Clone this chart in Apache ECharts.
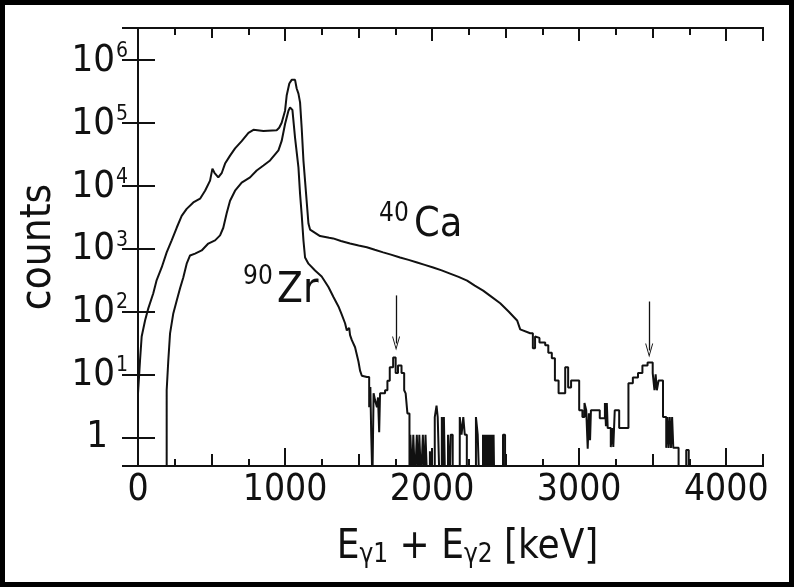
<!DOCTYPE html>
<html>
<head>
<meta charset="utf-8">
<script src="https://cdn.jsdelivr.net/npm/echarts@6/dist/echarts.min.js"></script>
<style>
  html, body { margin: 0; padding: 0; background: #fff; }
  #chart { width: 794px; height: 587px; }
</style>
</head>
<body>
<div id="chart"></div>
<script>
// 40Ca spectrum: [E (keV), counts].
// 0.2 = empty bin (below the axis); repeated energies are bin edges.
var ca40 = [
  [0,5],[14,17],[25,40],[48,72],[70,112],[104,195],[127,316],[161,500],[195,870],[229,1350],
  [263,2140],[297,3300],[331,4270],[376,5400],[422,6200],[456,8300],[490,12000],[506,18600],
  [520,16000],[546,13500],[570,16000],[592,22400],[626,30000],[660,39000],[705,51000],
  [751,69000],[785,77000],[853,74000],[943,76000],[960,83000],[977,100000],[1000,155000],
  [1011,270000],[1029,420000],[1045,480000],[1068,480000],[1079,350000],[1091,290000],[1102,210000],
  [1113,83000],[1125,25000],[1143,7400],[1159,2500],[1170,2000],[1204,1780],[1238,1580],
  [1300,1480],[1327,1450],[1380,1320],[1442,1200],[1500,1120],[1556,1050],[1610,955],
  [1667,870],[1720,800],[1782,720],[1840,660],[1898,600],[1950,550],[2007,500],[2065,450],
  [2122,400],[2180,355],[2238,310],[2290,257],[2347,214],[2400,174],[2463,135],[2520,100],
  [2578,72],[2599,52],[2667,45],[2685,45],[2685,26],[2700,26],[2700,40],[2730,38],[2730,32],
  [2769,32],[2769,29],[2790,29],[2790,22],[2814,22],[2814,18],[2835,18],[2835,8],[2860,8],
  [2860,5],[2905,5],[2905,13],[2925,13],[2925,6.2],[2945,6.2],[2945,8],[3000,8],[3000,2.7],
  [3022,2.7],[3022,2.1],[3036,2.1],[3036,3.5],[3048,3.5],[3048,2.7],[3058,2.7],[3058,0.66],
  [3066,0.66],[3066,2.4],[3074,2.4],[3074,0.9],[3080,0.9],[3080,2.7],[3140,2.7],[3140,2.0],
  [3175,2.0],[3175,3.5],[3182,3.5],[3182,1.5],[3188,1.5],[3188,3.5],[3194,3.5],[3194,1.4],
  [3215,1.4],[3215,0.7],[3224,0.7],[3224,1.4],[3232,1.4],[3232,0.7],[3242,0.7],[3242,2.7],
  [3272,2.7],[3272,1.4],[3335,1.4],[3335,7.2],[3365,7.2],[3365,8.9],[3400,8.9],[3400,10.5],
  [3430,10.5],[3430,13.8],[3465,13.8],[3465,15.5],[3500,15.5],[3500,10.5],[3512,10.5],
  [3512,5.6],[3520,5.6],[3520,10],[3528,10],[3528,5.6],[3540,5.6],[3540,8],[3570,8],
  [3570,2.1],[3592,2.1],[3592,0.68],[3600,0.68],[3600,2.1],[3608,2.1],[3608,0.68],[3616,0.68],
  [3616,2.1],[3624,2.1],[3624,0.68],[3632,0.68],[3632,2.1],[3640,2.1],[3640,0.68],[3676,0.68],
  [3676,0.2],[3728,0.2],[3728,0.63],[3745,0.63],[3745,0.2],[4250,0.2]
];

// 90Zr spectrum
var zr90 = [
  [0,0.2],[195,0.2],[195,5.6],[206,16.6],[218,45],[240,93],[263,148],[286,234],[308,347],[331,575],
  [354,776],[388,832],[433,933],[478,1200],[524,1350],[558,1620],[580,2140],[603,3630],
  [626,5750],[660,8300],[705,11200],[762,13500],[807,17400],[853,20900],[898,25100],
  [955,36300],[977,51300],[1000,95500],[1023,155000],[1034,174000],[1050,160000],
  [1068,57500],[1091,19500],[1102,7400],[1113,3500],[1125,1350],[1136,720],[1159,575],
  [1204,447],[1249,360],[1295,245],[1329,170],[1363,120],[1385,90],[1408,65],[1420,50],
  [1436,55],[1442,42],[1454,35],[1476,27],[1499,16],[1510,11.5],[1522,9.5],[1556,9.1],
  [1572,9.1],[1572,3],[1580,3],[1580,6.3],[1586,6.3],[1586,1.1],[1594,1.1],[1594,0.2],
  [1602,0.2],[1602,5],[1612,5],[1612,3.9],[1625,3.9],[1625,3],[1632,3],[1632,4.3],[1640,4.3],
  [1640,1.2],[1646,1.2],[1646,5],[1680,5],[1680,5.6],[1696,5.6],[1696,7.9],[1712,7.9],
  [1712,13],[1735,13],[1735,18.6],[1752,18.6],[1752,10.5],[1768,10.5],[1768,13.8],[1792,13.8],
  [1792,10.5],[1810,10.5],[1810,5.6],[1820,5.6],[1820,5],[1832,5],[1832,2.4],[1846,2.4],
  [1846,0.2],[1852,0.2],[1852,1.1],[1864,1.1],[1864,0.2],[1872,0.2],[1872,1.1],[1884,1.1],
  [1884,0.2],[1896,0.2],[1896,1.1],[1906,1.1],[1906,0.2],[1913,0.2],[1913,1.1],[1925,1.1],
  [1925,0.2],[1937,0.2],[1937,1.1],[1947,1.1],[1947,0.2],[1955,0.2],[1955,1.1],[1966,1.1],
  [1966,0.2],[1985,0.2],[1985,0.6],[1997,0.6],[1997,0.2],[2018,0.2],[2018,2.1],[2030,2.1],
  [2030,3.2],[2038,3.2],[2038,2.1],[2050,2.1],[2050,0.2],[2066,0.2],[2066,2.1],[2074,2.1],
  [2074,0.2],[2080,0.2],[2080,2.1],[2088,2.1],[2088,0.2],[2108,0.2],[2108,1.1],[2120,1.1],
  [2120,0.2],[2126,0.2],[2126,1.1],[2140,1.1],[2140,0.2],[2188,0.2],[2188,2.1],[2200,2.1],
  [2200,1.1],[2212,1.1],[2212,2.1],[2222,2.1],[2222,1.1],[2236,1.1],[2236,0.2],[2298,0.2],
  [2298,2.1],[2310,2.1],[2310,1.1],[2320,1.1],[2320,0.2],[2346,0.2],[2346,1.1],[2352,1.1],
  [2352,0.2],[2358,0.2],[2358,1.1],[2364,1.1],[2364,0.2],[2370,0.2],[2370,1.1],[2376,1.1],
  [2376,0.2],[2382,0.2],[2382,1.1],[2388,1.1],[2388,0.2],[2394,0.2],[2394,1.1],[2400,1.1],
  [2400,0.2],[2406,0.2],[2406,1.1],[2412,1.1],[2412,0.2],[2418,0.2],[2418,1.1],[2422,1.1],
  [2422,0.2],[2482,0.2],[2482,1.1],[2496,1.1],[2496,0.2],[4250,0.2]
];

// arrows marking the peaks: [E, top, tip]
var arrows = [[1755, 180, 31], [3476, 144, 24]];

var FONT = "'Liberation Sans Narrow', 'DejaVu Sans Condensed', 'Liberation Sans', sans-serif";
var INK = '#111';

var myChart = echarts.init(document.getElementById('chart'));

function xTicks(pos, interval, len, withLabels) {
    return {
        type: 'value', position: pos, min: 0, max: 4250, interval: interval,
        axisLine: { show: true, lineStyle: { color: INK, width: 2 } },
        axisTick: { show: true, inside: true, length: len, lineStyle: { color: INK, width: 2 } },
        axisLabel: withLabels ? {
            show: true, margin: 6, color: INK, fontFamily: FONT, fontSize: 37, showMaxLabel: false,
            formatter: function (v) { return String(v); }
        } : { show: false },
        splitLine: { show: false }
    };
}

var xMain = xTicks('bottom', 1000, 18, true);
xMain.name = 'E{sub|γ1} + E{sub|γ2} [keV]';
xMain.nameLocation = 'middle';
xMain.nameGap = 62;
xMain.nameTextStyle = {
    color: INK, fontFamily: FONT, fontSize: 40, lineHeight: 40, padding: [0, 0, 0, 34],
    rich: { sub: { fontFamily: FONT, fontSize: 26, lineHeight: 24, padding: [14, 0, 0, 0], verticalAlign: 'bottom', color: INK } }
};

function decadeLabel(v) {
    var e = Math.log10(v);
    if (Math.abs(e - Math.round(e)) > 1e-6) return '';
    e = Math.round(e);
    if (e === 0) return '{one|1}';
    return '{b|10}{s|' + e + '}';
}

var yCommon = {
    type: 'log', logBase: 10, min: 0.35, max: 3.2e6,
    axisLine: { show: true, lineStyle: { color: INK, width: 2 } },
    splitLine: { show: false }
};

var option = {
    backgroundColor: '#fff',
    animation: false,
    grid: { left: 138, right: 31, top: 28, bottom: 121 },
    xAxis: [
        xMain,
        xTicks('bottom', 500, 12, false),
        xTicks('bottom', 250, 7, false),
        xTicks('top', 1000, 13, false),
        xTicks('top', 500, 10, false),
        xTicks('top', 250, 7, false)
    ],
    yAxis: [
        Object.assign({}, yCommon, {
            position: 'left',
            axisTick: { show: true, inside: true, length: 17, lineStyle: { color: INK, width: 2 } },
            axisLabel: {
                show: true, margin: 10, color: INK, formatter: decadeLabel,
                rich: {
                    b: { fontFamily: FONT, fontSize: 38, lineHeight: 40, verticalAlign: 'bottom', color: INK },
                    s: { fontFamily: FONT, fontSize: 21, lineHeight: 20, padding: [0, 0, 18, 1], verticalAlign: 'bottom', color: INK },
                    one: { fontFamily: FONT, fontSize: 38, lineHeight: 40, padding: [0, 20, 0, 0], color: INK }
                }
            },
            name: 'counts', nameLocation: 'middle', nameGap: 78,
            nameTextStyle: { color: INK, fontFamily: FONT, fontSize: 42 }
        }),
        Object.assign({}, yCommon, {
            position: 'right',
            axisTick: { show: true, inside: true, length: 16, lineStyle: { color: INK, width: 2 } },
            axisLabel: { show: false }
        })
    ],
    series: [
        {
            name: '40Ca', type: 'line', data: ca40,
            showSymbol: false, clip: true,
            lineStyle: { color: INK, width: 2 },
            markLine: {
                silent: true,
                symbol: ['none', 'path://M5,0 L10,13 L8.8,13 L5,3 L1.2,13 L0,13 Z'],
                symbolSize: [8, 14],
                label: { show: false },
                lineStyle: { type: 'solid', color: INK, width: 1.3 },
                data: arrows.map(function (a) {
                    return [{ coord: [a[0], a[1]] }, { coord: [a[0], a[2]] }];
                })
            }
        },
        {
            name: '90Zr', type: 'line', data: zr90,
            showSymbol: false, clip: true,
            lineStyle: { color: INK, width: 2 }
        }
    ],
    graphic: [
        { type: 'text', left: 379, top: 201, style: { text: '40', fill: INK, font: '26px ' + FONT } },
        { type: 'text', left: 414, top: 205, style: { text: 'Ca', fill: INK, font: '41px ' + FONT } },
        { type: 'text', left: 243, top: 264, style: { text: '90', fill: INK, font: '26px ' + FONT } },
        { type: 'text', left: 277, top: 270, style: { text: 'Zr', fill: INK, font: '42px ' + FONT } },
        { type: 'rect', shape: { x: 0, y: 0, width: 794, height: 587 }, style: { fill: 'none', stroke: '#000', lineWidth: 10 }, silent: true }
    ]
};

myChart.setOption(option);
</script>
</body>
</html>
